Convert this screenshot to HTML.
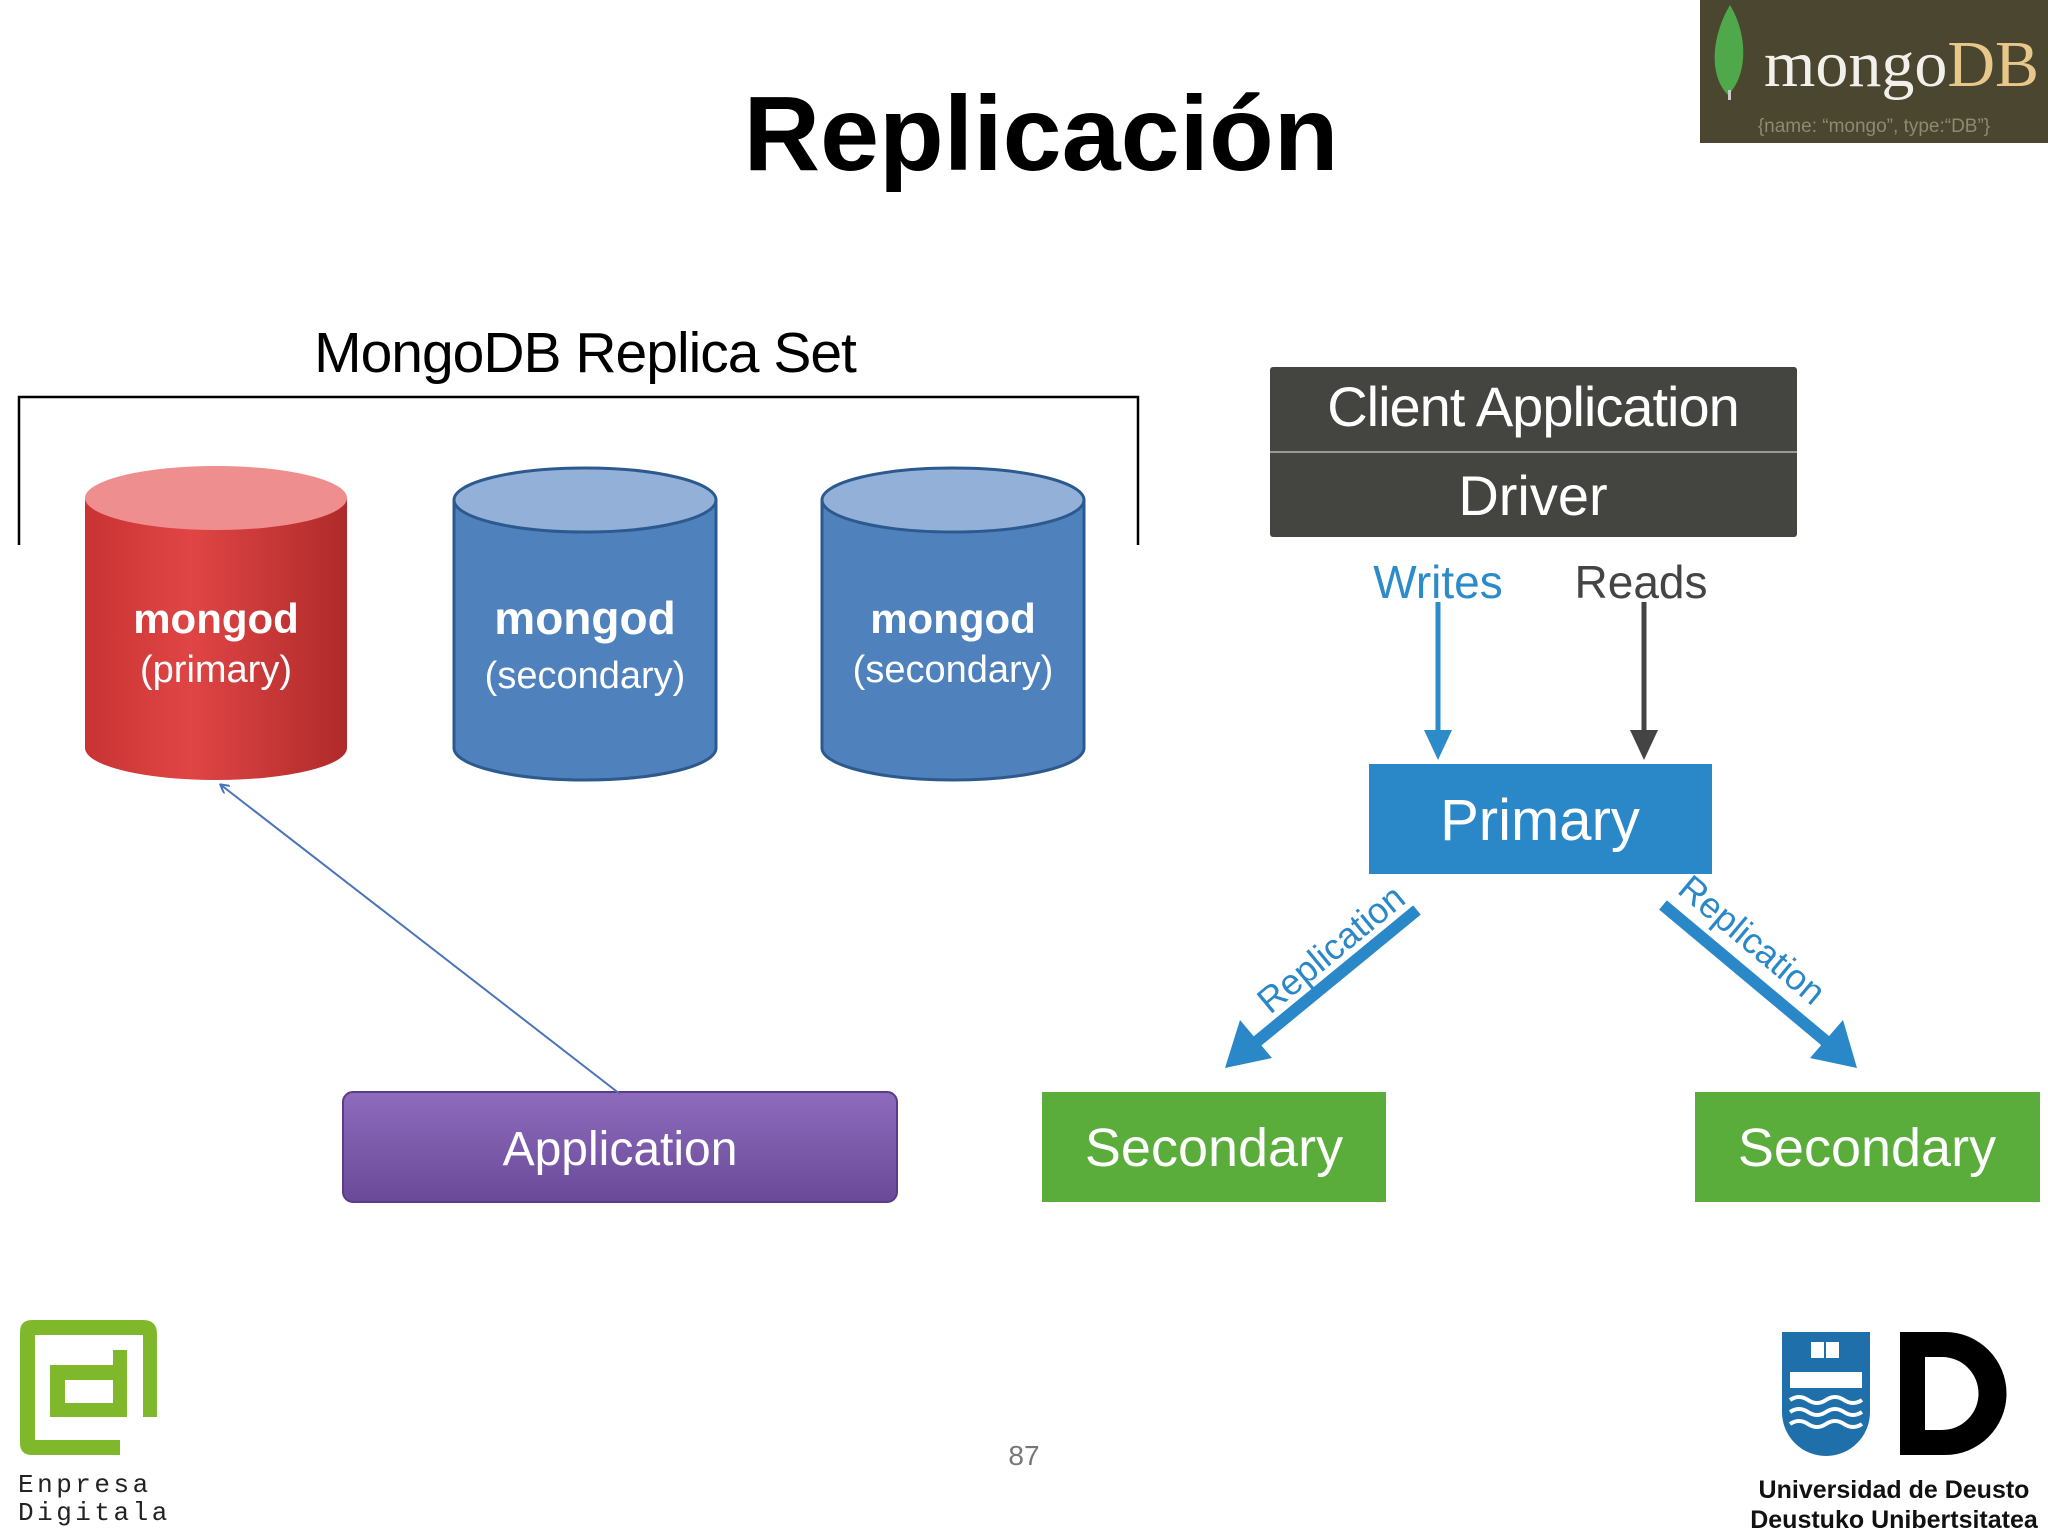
<!DOCTYPE html>
<html><head><meta charset="utf-8"><style>
html,body{margin:0;padding:0;background:#fff}
svg{display:block}
</style></head><body>
<svg width="2048" height="1536" viewBox="0 0 2048 1536" xmlns="http://www.w3.org/2000/svg" font-family="Liberation Sans, sans-serif">
<defs>
<linearGradient id="red" x1="0" x2="1"><stop offset="0" stop-color="#c93333"/><stop offset="0.4" stop-color="#e04545"/><stop offset="1" stop-color="#b02a2a"/></linearGradient>
<linearGradient id="purp" x1="0" y1="0" x2="0" y2="1"><stop offset="0" stop-color="#8e6bbd"/><stop offset="1" stop-color="#6a4a98"/></linearGradient>
<marker id="ah" markerWidth="10" markerHeight="10" refX="8" refY="5" orient="auto" markerUnits="userSpaceOnUse"><path d="M0,0 L9,5 L0,10" fill="none" stroke="#4a74b8" stroke-width="2"/></marker>
</defs>

<text x="1041" y="170" text-anchor="middle" font-size="106" font-weight="bold" fill="#000">Replicación</text>

<rect x="1700" y="0" width="348" height="143" fill="#4a4630"/>
<path d="M1730,5 C1712,35 1708,75 1728,95 C1748,75 1748,35 1730,5 Z" fill="#4fa84a"/>
<rect x="1728" y="90" width="3" height="10" fill="#ccc"/>
<text x="1764" y="86" font-family="Liberation Serif, serif" font-size="66" fill="#f2f0ea">mongo<tspan fill="#e7c88a">DB</tspan></text>
<text x="1874" y="132" text-anchor="middle" font-size="19" fill="#8d8a70">{name: “mongo”, type:“DB”}</text>

<text x="585" y="372" text-anchor="middle" font-size="57" fill="#000" letter-spacing="-1">MongoDB Replica Set</text>
<path d="M19,545 V397 H1138 V545" fill="none" stroke="#000" stroke-width="2.5"/>

<path d="M85,498 V748 A131,32 0 0 0 347,748 V498 Z" fill="url(#red)"/>
<ellipse cx="216" cy="498" rx="131" ry="32" fill="#ee8e8e"/>
<text x="216" y="633" text-anchor="middle" font-size="42" font-weight="bold" fill="#fff">mongod</text>
<text x="216" y="682" text-anchor="middle" font-size="38" fill="#fff">(primary)</text>

<g stroke="#2d5a8e" stroke-width="3">
<path d="M454,500 V748 A131,32 0 0 0 716,748 V500" fill="#4f81bd"/>
<ellipse cx="585" cy="500" rx="131" ry="32" fill="#93b1d8"/>
<path d="M822,500 V748 A131,32 0 0 0 1084,748 V500" fill="#4f81bd"/>
<ellipse cx="953" cy="500" rx="131" ry="32" fill="#93b1d8"/>
</g>
<text x="585" y="634" text-anchor="middle" font-size="46" font-weight="bold" fill="#fff">mongod</text>
<text x="585" y="688" text-anchor="middle" font-size="38" fill="#fff">(secondary)</text>
<text x="953" y="633" text-anchor="middle" font-size="42" font-weight="bold" fill="#fff">mongod</text>
<text x="953" y="682" text-anchor="middle" font-size="38" fill="#fff">(secondary)</text>

<rect x="343" y="1092" width="554" height="110" rx="10" fill="url(#purp)" stroke="#5a3d85" stroke-width="2"/>
<text x="620" y="1165" text-anchor="middle" font-size="48" fill="#fff">Application</text>
<line x1="620" y1="1094" x2="221" y2="785" stroke="#4a74b8" stroke-width="2" marker-end="url(#ah)"/>

<rect x="1270" y="367" width="527" height="170" rx="3" fill="#444441"/>
<line x1="1270" y1="452" x2="1797" y2="452" stroke="#999" stroke-width="2"/>
<text x="1533" y="426" text-anchor="middle" font-size="56" fill="#fff" letter-spacing="-1">Client Application</text>
<text x="1533" y="515" text-anchor="middle" font-size="56" fill="#fff">Driver</text>
<text x="1438" y="598" text-anchor="middle" font-size="46" fill="#2e8bc9">Writes</text>
<text x="1641" y="598" text-anchor="middle" font-size="46" fill="#444">Reads</text>
<line x1="1438" y1="602" x2="1438" y2="735" stroke="#2e8bc9" stroke-width="5"/>
<path d="M1424,730 L1452,730 L1438,760 Z" fill="#2e8bc9"/>
<line x1="1644" y1="602" x2="1644" y2="735" stroke="#444" stroke-width="5"/>
<path d="M1630,730 L1658,730 L1644,760 Z" fill="#444"/>

<rect x="1369" y="764" width="343" height="110" fill="#2a88c8"/>
<text x="1540" y="840" text-anchor="middle" font-size="58" fill="#fff">Primary</text>

<line x1="1417" y1="910" x2="1255" y2="1043" stroke="#2a88c8" stroke-width="12"/>
<path d="M1225,1068 L1240,1020 L1272,1058 Z" fill="#2a88c8"/>
<text transform="translate(1270,1015) rotate(-39.5)" font-size="36" fill="#2a88c8">Replication</text>
<line x1="1663" y1="905" x2="1828" y2="1043" stroke="#2a88c8" stroke-width="12"/>
<path d="M1857,1068 L1843,1020 L1810,1058 Z" fill="#2a88c8"/>
<text transform="translate(1676,892) rotate(40)" font-size="36" fill="#2a88c8">Replication</text>

<rect x="1042" y="1092" width="344" height="110" fill="#5aac3b"/>
<text x="1214" y="1166" text-anchor="middle" font-size="54" fill="#fff">Secondary</text>
<rect x="1695" y="1092" width="345" height="110" fill="#5aac3b"/>
<text x="1867" y="1166" text-anchor="middle" font-size="54" fill="#fff">Secondary</text>

<text x="1024" y="1465" text-anchor="middle" font-size="28" fill="#777">87</text>

<!-- Enpresa Digitala -->
<g fill="#7fb82a">
<path d="M32,1320 H143 Q157,1320 157,1334 V1417 H143 V1335 H35 V1440 H120 V1455 H32 Q20,1455 20,1443 V1332 Q20,1320 32,1320 Z"/>
<path d="M113,1350 H127 V1417 H50 V1365 H113 Z M65,1380 V1403 H113 V1380 Z" fill-rule="evenodd"/>
</g>
<text x="18" y="1492" font-family="Liberation Mono, monospace" font-size="26" letter-spacing="3.5" fill="#222">Enpresa</text>
<text x="18" y="1520" font-family="Liberation Mono, monospace" font-size="26" letter-spacing="3.5" fill="#222">Digitala</text>

<!-- Deusto -->
<path d="M1782,1332 H1870 V1412 A44,44 0 0 1 1782,1412 Z" fill="#1f70aa"/>
<path d="M1811,1342 h13 v16 h-13 z M1826,1342 h13 v16 h-13 z" fill="#fff"/>
<rect x="1790" y="1372" width="72" height="16" fill="#fff"/>
<path d="M1790,1400 q9,-6 18,0 t18,0 t18,0 t18,0 M1790,1412 q9,-6 18,0 t18,0 t18,0 t18,0 M1790,1424 q9,-6 18,0 t18,0 t18,0 t18,0" stroke="#fff" stroke-width="4" fill="none"/>
<path d="M1900,1332 H1945 A61,61 0 0 1 1945,1455 H1900 Z M1925,1357 V1430 H1942 A36,36 0 0 0 1942,1357 Z" fill="#000" fill-rule="evenodd"/>
<text x="1894" y="1498" text-anchor="middle" font-size="25" font-weight="bold" fill="#111">Universidad de Deusto</text>
<text x="1894" y="1528" text-anchor="middle" font-size="25" font-weight="bold" fill="#111">Deustuko Unibertsitatea</text>
</svg>
</body></html>
